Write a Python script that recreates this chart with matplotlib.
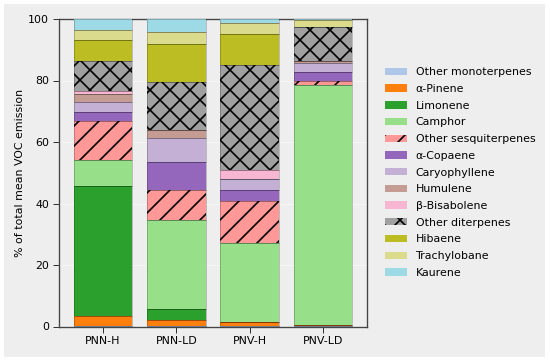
import numpy as np
import matplotlib
matplotlib.use("Agg")
import matplotlib.pyplot as plt
from matplotlib.patches import Rectangle

samples = ["PNN-H", "PNN-LD", "PNV-H", "PNV-LD"]
compounds = ["Other monoterpenes", "α-Pinene", "Limonene", "Camphor",
             "Other sesquiterpenes", "α-Copaene", "Caryophyllene", "Humulene",
             "β-Bisabolene", "Other diterpenes", "Hibaene", "Trachylobane", "Kaurene"]

other_monoterpenes = [0.2, 0.2, 0.2, 0.1]
a_pinene = [3.3, 1.9, 1.2, 0.3]
limonene = [42.2, 3.5, 0.0, 0.0]
camphor = [8.4, 29.0, 25.7, 78.1]
other_sesquiterpenes = [12.6, 9.8, 13.7, 1.4]
a_copaene = [3.0, 9.2, 3.6, 3.0]
caryophyllene = [3.2, 7.8, 3.5, 2.7]
humulene = [2.8, 2.5, 0.0, 0.7]
b_bisabolene = [0.8, 0.0, 3.0, 0.0]
other_diterpenes = [10.0, 15.7, 34.1, 11.2]
hibaene = [6.6, 12.2, 10.1, 0.0]
trachylobane = [3.2, 4.1, 3.5, 2.3]
kaurene = [3.7, 4.1, 1.4, 0.2]

series = [other_monoterpenes, a_pinene, limonene, camphor, other_sesquiterpenes,
          a_copaene, caryophyllene, humulene, b_bisabolene, other_diterpenes,
          hibaene, trachylobane, kaurene]
colors = ["#aec7e8", "#ff7f0e", "#2ca02c", "#98df8a", "#ff9896", "#9467bd",
          "#c5b0d5", "#c49c94", "#f7b6d2", "#a0a0a0", "#bcbd22", "#dbdb8d", "#9edae5"]
hatches = [None, None, None, None, "//", None, None, None, None, "xx", None, None, None]

plt.rcParams["hatch.linewidth"] = 1.0
plt.rcParams["font.family"] = ["DejaVu Sans"]
FS = 6.6
BG = "#eeeeee"

fig = plt.figure(figsize=(550 / 120, 364 / 120), dpi=120, facecolor="white")
fig.patches.append(Rectangle((4 / 550, 7 / 364), 541 / 550, 353 / 364,
                             transform=fig.transFigure, facecolor=BG,
                             edgecolor="none", zorder=-10))
ax = fig.add_axes([59 / 550, 37.5 / 364, 308 / 550, 307.5 / 364])
ax.set_facecolor(BG)

x = np.arange(len(samples))
bottom = np.zeros(len(samples))
handles = []
for vals, col, h, name in zip(series, colors, hatches, compounds):
    vals = np.array(vals)
    b = ax.bar(x, vals, 0.8, bottom=bottom, color=col, hatch=h,
               edgecolor="black", linewidth=0, label=name, zorder=3)
    ax.bar(x, vals, 0.8, bottom=bottom, facecolor="none",
           edgecolor=(0, 0, 0, 0.25), linewidth=0.5, zorder=4)
    handles.append(b)
    bottom += vals

ax.set_xlim(-0.6, 3.6)
ax.set_ylim(0, 100)
ax.set_yticks([0, 20, 40, 60, 80, 100])
ax.set_xticks(x)
ax.set_xticklabels(samples)
ax.tick_params(labelsize=FS, length=3.5, width=0.6, color="#333333", pad=2.5)
ax.set_ylabel("% of total mean VOC emission", fontsize=FS, labelpad=2)
ax.yaxis.grid(True, color="#f6f6f6", linewidth=0.6, zorder=0)
ax.set_axisbelow(True)
for s in ax.spines.values():
    s.set_color("#444444")
    s.set_linewidth(0.8)

leg = fig.legend(handles=handles, loc="center left",
                 bbox_to_anchor=(375 / 550, 0.526), fontsize=FS,
                 frameon=False, handlelength=2.0, handleheight=0.65,
                 handletextpad=0.8, labelspacing=0.61, borderpad=0.4)

fig.savefig("out.png", dpi=120, facecolor="white")
